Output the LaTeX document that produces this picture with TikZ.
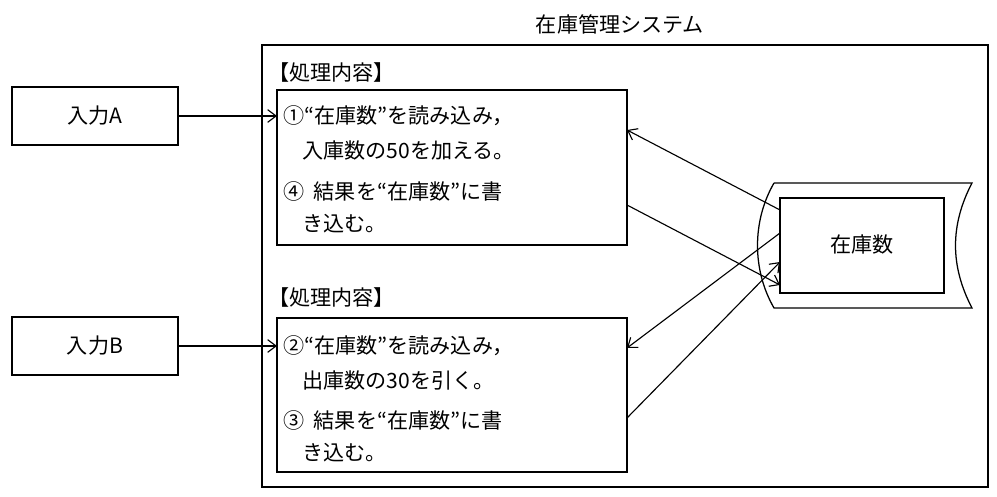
\documentclass[tikz,border=0pt]{standalone}
\usepackage{fontspec}
\setmainfont{Noto Sans CJK JP}
\usepackage{tikz}
\usetikzlibrary{arrows.meta,positioning}

\begin{document}
\begin{tikzpicture}[x=0.025cm,y=-0.025cm,
  txt/.style={font=\fontsize{15}{18}\selectfont, anchor=west, inner sep=0pt},
  frame/.style={line width=0.9pt},
  flow/.style={-{Straight Barb[length=6pt,width=9pt]}, line width=0.8pt},
]
  \useasboundingbox (0,0) rectangle (997,497);

  % System frame
  \node[txt, anchor=center] (title) at (620,24) {在庫管理システム};
  \draw[frame] (262,45) rectangle (988,487);

  % Inputs
  \draw[frame] (12,87) rectangle (178,145);
  \draw[frame] (12,317) rectangle (178,375);
  \node[txt, anchor=center] (inA) at (95,116) {入力A};
  \node[txt, anchor=center] (inB) at (95,346) {入力B};
  \coordinate (inAe) at (178,116);
  \coordinate (inBe) at (178,346);

  % Process boxes
  \draw[frame] (277,90) rectangle (627,245);
  \draw[frame] (277,318) rectangle (627,472);
  \node[txt] (lblA) at (268,72) {【処理内容】};
  \node[txt] (lblB) at (268,297) {【処理内容】};
  \coordinate (pAin) at (277,116);
  \coordinate (pBin) at (277,346);

  \node[txt] (a1) at (283,116) {①“在庫数”を読み込み，};
  \node[txt] (a2) at (302,151) {入庫数の50を加える。};
  \node[txt] (a3) at (283,191) {④\ \ 結果を“在庫数”に書};
  \node[txt] (a4) at (302,224) {き込む。};
  \node[txt] (b1) at (283,346) {②“在庫数”を読み込み，};
  \node[txt] (b2) at (302,381) {出庫数の30を引く。};
  \node[txt] (b3) at (283,420) {③\ \ 結果を“在庫数”に書};
  \node[txt] (b4) at (302,453) {き込む。};

  % Storage
  \draw[frame] (774,183) -- (972,183) .. controls (950,225) and (950,266) .. (972,308)
    -- (774,308) .. controls (752,270) and (752,221) .. (774,183);
  \draw[frame] (780,198) rectangle (944,293);
  \node[txt, anchor=center] (stock) at (862,245) {在庫数};

  \coordinate (sA1) at (780,210);
  \coordinate (sA4) at (780,285);
  \coordinate (sB2) at (780,233);
  \coordinate (sB3) at (780,262);
  \coordinate (pA1) at (627,130);
  \coordinate (pA4) at (627,205);
  \coordinate (pB2) at (627,348);
  \coordinate (pB3) at (627,418);

  % Connectors
  \draw[flow] (inAe) -- (pAin);
  \draw[flow] (inBe) -- (pBin);
  \draw[flow] (sA1) -- (pA1);
  \draw[flow] (pA4) -- (sA4);
  \draw[flow] (sB2) -- (pB2);
  \draw[flow] (pB3) -- (sB3);
\end{tikzpicture}
\end{document}
